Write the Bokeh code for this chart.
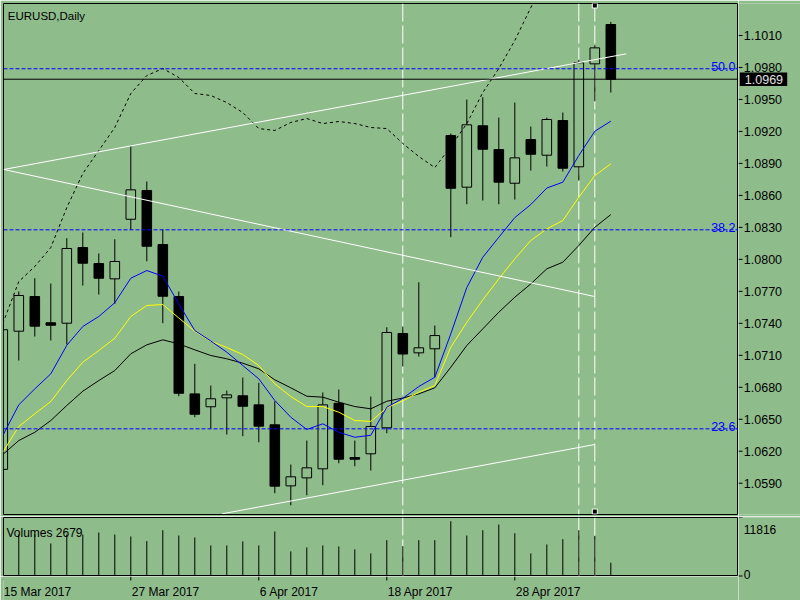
from bokeh.plotting import figure
from bokeh.models import Range1d, Label, Span
from bokeh.layouts import column, row
from bokeh.core.properties import value
from bokeh.embed import file_html
from bokeh.resources import INLINE

# ---------------- data ----------------
opens = [1.0603, 1.07326, 1.07651, 1.07405, 1.07401, 1.08111, 1.07961, 1.07817, 1.08376, 1.08646,
         1.08139, 1.07651, 1.06738, 1.06617, 1.06701, 1.06720, 1.06635, 1.06448, 1.05875, 1.05950,
         1.06035, 1.06650, 1.06141, 1.06176, 1.06420, 1.07304, 1.07123, 1.07161, 1.09162, 1.08677,
         1.09253, 1.09030, 1.08714, 1.09124, 1.08977, 1.09302, 1.08868, 1.09834, 1.10203]
highs = [1.0738, 1.07698, 1.07823, 1.07773, 1.08198, 1.08252, 1.08055, 1.08189, 1.09061, 1.08730,
         1.08280, 1.07698, 1.07020, 1.06816, 1.06769, 1.06891, 1.06842, 1.06669, 1.06075, 1.06300,
         1.06751, 1.06779, 1.06300, 1.06713, 1.07363, 1.07370, 1.07785, 1.07379, 1.09180, 1.09499,
         1.09521, 1.09330, 1.09471, 1.09246, 1.09330, 1.09377, 1.09872, 1.10006, 1.10228]
lows = [1.0600, 1.07051, 1.07276, 1.07239, 1.07201, 1.07754, 1.07670, 1.07583, 1.08277, 1.07982,
        1.07401, 1.06716, 1.06519, 1.06410, 1.06357, 1.06341, 1.06284, 1.05806, 1.05693, 1.05787,
        1.05881, 1.06087, 1.06059, 1.06019, 1.06369, 1.06995, 1.07088, 1.06894, 1.08208, 1.08517,
        1.08552, 1.08517, 1.08561, 1.08833, 1.08871, 1.08824, 1.08739, 1.09483, 1.09565]
closes = [1.0734, 1.07661, 1.07373, 1.07382, 1.08102, 1.07964, 1.07823, 1.07980, 1.08652, 1.08123,
          1.07654, 1.06744, 1.06547, 1.06692, 1.06729, 1.06622, 1.06435, 1.05872, 1.05960, 1.06044,
          1.06635, 1.06125, 1.06125, 1.06432, 1.07314, 1.07112, 1.07170, 1.07285, 1.08667, 1.09262,
          1.09033, 1.08724, 1.08952, 1.08986, 1.09312, 1.08855, 1.09844, 1.09984, 1.0969]
volumes = [11816, 8380, 8380, 6570, 8380, 8380, 8780, 8380, 7980, 7040,
           9250, 8180, 7780, 6170, 6170, 6980, 6170, 8990, 4970, 5770,
           6170, 5970, 5370, 4560, 7240, 6030, 7240, 7240, 11060, 8180,
           9250, 10390, 8640, 4560, 6370, 7440, 9250, 8040, 2679]

ma_fast = [1.06347, 1.06635, 1.06785, 1.06926, 1.07194, 1.07370, 1.07464, 1.07593, 1.07823, 1.07895,
           1.07842, 1.07583, 1.07332, 1.07234, 1.07129, 1.07004, 1.06879, 1.06676, 1.06519, 1.06404,
           1.06457, 1.06378, 1.06331, 1.06350, 1.06613, 1.06696, 1.06807, 1.06894, 1.07301, 1.07736,
           1.08020, 1.08207, 1.08392, 1.08514, 1.08669, 1.08724, 1.08974, 1.09202, 1.09296]
ma_mid = [1.06191, 1.06432, 1.06551, 1.06666, 1.06863, 1.07035, 1.07145, 1.07260, 1.07464, 1.07567,
          1.07576, 1.07450, 1.07325, 1.07231, 1.07173, 1.07107, 1.07004, 1.06832, 1.06713, 1.06619,
          1.06619, 1.06566, 1.06488, 1.06480, 1.06608, 1.06673, 1.06753, 1.06816, 1.07176, 1.07410,
          1.07620, 1.07817, 1.08005, 1.08177, 1.08286, 1.08364, 1.08583, 1.08786, 1.08896]
ma_slow = [1.06169, 1.06300, 1.06378, 1.06488, 1.06629, 1.06763, 1.06863, 1.06957, 1.07114, 1.07198,
           1.07245, 1.07207, 1.07151, 1.07098, 1.07067, 1.07026, 1.06973, 1.06870, 1.06795, 1.06716,
           1.06707, 1.06660, 1.06619, 1.06598, 1.06669, 1.06699, 1.06738, 1.06795, 1.06988, 1.07192,
           1.07348, 1.07504, 1.07645, 1.07770, 1.07911, 1.07973, 1.08130, 1.08301, 1.08420]
ma_dashed = [1.07398, 1.07792, 1.07933, 1.08111, 1.08486, 1.08805, 1.09021, 1.09237, 1.09556, 1.09724,
             1.09790, 1.09706, 1.09556, 1.09537, 1.09471, 1.09377, 1.09227, 1.09209, 1.09284, 1.09321,
             1.09274, 1.09293, 1.09274, 1.09237, 1.09227, 1.09087, 1.08965, 1.08861, 1.09058, 1.09274,
             1.09565, 1.09790, 1.10053, 1.10362, 1.10663]

date_ticks = [0, 8, 16, 24, 32]
date_labels = ["15 Mar 2017", "27 Mar 2017", "6 Apr 2017", "18 Apr 2017", "28 Apr 2017"]
price_ticks = [1.0590, 1.0620, 1.0650, 1.0680, 1.0710, 1.0740, 1.0770, 1.0800,
               1.0830, 1.0860, 1.0890, 1.0920, 1.0950, 1.0980, 1.1010]
fib_levels = [1.06410, 1.08277, 1.09788]
fib_names = ["23.6", "38.2", "50.0"]
last_price = 1.0969
vol_max = 11816
vol_ticks = [0, 11816]
vline_bars = [25, 36, 37]
trend_upper_x = [0.06, 38.96]
trend_upper_y = [1.08843, 1.09928]
trend_lower_x = [0.06, 37.0]
trend_lower_y = [1.08843, 1.07651]
trend_bottom_x = [13.71, 37.0]
trend_bottom_y = [1.05613, 1.06263]
handle_x = [37, 37]
handle_y = [1.10381, 1.05634]

# ---------------- styling ----------------
BG = "#8FBC8B"
FONT = "Liberation Sans"
Y0, Y1 = 1.056064, 1.104002
FRAME_W, FRAME_H, AXIS_W = 735, 511, 62
PPX = FRAME_H / (Y1 - Y0)  # pixels per price unit
VFRAME_H = 59
DATE_H = 24
V0 = -100
VPX = VFRAME_H / (vol_max - V0)


def make(xr, yr, fw, fh, left=0, right=0, top=0, bottom=0, outline="black"):
    f = figure(x_range=xr, y_range=yr, frame_width=fw, frame_height=fh,
               min_border_left=left, min_border_right=right,
               min_border_top=top, min_border_bottom=bottom,
               x_axis_location=None, y_axis_location=None,
               toolbar_location=None, output_backend="svg")
    f.background_fill_color = BG
    f.border_fill_color = BG
    f.outline_line_color = outline
    f.xgrid.visible = False
    f.ygrid.visible = False
    f.grid.grid_line_color = None
    return f


x_range = Range1d(0.044, 45.98)
y_range = Range1d(Y0, Y1)
v_range = Range1d(V0, vol_max)

# ---------------- main price panel ----------------
p1 = make(x_range, y_range, FRAME_W, FRAME_H, left=3, top=3, bottom=2)

for b in vline_bars:
    p1.add_layout(Span(location=b, dimension="height", line_color="white",
                       line_dash="18 4", line_width=1, level="underlay"))

idx = list(range(len(opens)))
bull = [i for i in idx if closes[i] >= opens[i]]
bear = [i for i in idx if closes[i] < opens[i]]

p1.segment(x0=idx, y0=lows, x1=idx, y1=highs, line_color="black", line_width=1)
p1.vbar(x=bull, width=0.6, top=[closes[i] for i in bull], bottom=[opens[i] for i in bull],
        fill_color=BG, line_color="black", line_width=1)
p1.vbar(x=bear, width=0.6, top=[opens[i] for i in bear], bottom=[closes[i] for i in bear],
        fill_color="black", line_color="black", line_width=1)

p1.line(list(range(len(ma_dashed))), ma_dashed, line_color="black", line_width=1, line_dash="3 3")
p1.line(idx, ma_slow, line_color="black", line_width=1)
p1.line(idx, ma_mid, line_color="#FFFF00", line_width=1)
p1.line(idx, ma_fast, line_color="#0000FF", line_width=1)

p1.line(trend_upper_x, trend_upper_y, line_color="white", line_width=1)
p1.line(trend_lower_x, trend_lower_y, line_color="white", line_width=1)
p1.line(trend_bottom_x, trend_bottom_y, line_color="white", line_width=1)

for lvl, name in zip(fib_levels, fib_names):
    p1.add_layout(Span(location=lvl, dimension="width", line_color="#0000FF",
                       line_dash="4 2", line_width=1))
    p1.add_layout(Label(x=45.79, y=lvl + 2.6 / PPX, text=name, text_align="right",
                        text_baseline="alphabetic", text_color="#0000FF",
                        text_font=FONT, text_font_size="12.5px"))

p1.add_layout(Span(location=last_price, dimension="width", line_color="black", line_width=1))
p1.scatter(handle_x, handle_y, marker="square", size=5, fill_color="black", line_color="white")

p1.add_layout(Label(x=0.3125, y=Y1 - 12.7 / PPX, text="EURUSD,Daily", text_align="left",
                    text_baseline="alphabetic", text_color="black",
                    text_font=FONT, text_font_size="11.5px"))

# ---------------- price scale (right) ----------------
p1r = make(Range1d(0, AXIS_W), y_range, AXIS_W, FRAME_H, top=3, bottom=2, outline=None)
n = len(price_ticks)
p1r.segment(x0=[0] * n, y0=price_ticks, x1=[4] * n, y1=price_ticks, line_color="black", line_width=1)
p1r.text(x=[5.3] * n, y=price_ticks, text=["%.4f" % t for t in price_ticks],
         text_align="left", text_baseline="middle", text_color="black",
         text_font=value(FONT), text_font_size=value("12.5px"))
p1r.quad(left=[1.3], right=[48.7], bottom=[last_price - 6.7 / PPX], top=[last_price + 6.6 / PPX],
         fill_color="black", line_color=None)
p1r.text(x=[6.3], y=[last_price], text=["%.4f" % last_price],
         text_align="left", text_baseline="middle", text_color="#E0E0E0",
         text_font=value(FONT), text_font_size=value("12.5px"))

# ---------------- volume panel ----------------
p2 = make(x_range, v_range, FRAME_W, VFRAME_H, left=3, top=1)
for b in vline_bars:
    p2.add_layout(Span(location=b, dimension="height", line_color="white",
                       line_dash="18 4", line_width=1, level="underlay"))
p2.segment(x0=idx, y0=[0] * len(idx), x1=idx, y1=volumes, line_color="black", line_width=1)
p2.add_layout(Label(x=0.23, y=V0 + 43.7 / VPX, text="Volumes %d" % volumes[-1], text_align="left",
                    text_baseline="alphabetic", text_color="black",
                    text_font=FONT, text_font_size="12px"))

# volume scale: same pixels-per-unit as the volume panel, extended down over the date row
p2r = make(Range1d(0, AXIS_W), Range1d(V0 - DATE_H / VPX, vol_max), AXIS_W, VFRAME_H + DATE_H,
           top=1, outline=None)
p2r.segment(x0=[0, 0], y0=vol_ticks, x1=[4, 4], y1=vol_ticks, line_color="black", line_width=1)
p2r.text(x=[5.3, 5.3], y=[vol_max - 11.6 / VPX, 1.5 / VPX], text=[str(t) for t in reversed(vol_ticks)],
         text_align="left", text_baseline="alphabetic", text_color="black",
         text_font=value(FONT), text_font_size=value("12px"))

# ---------------- date scale (bottom) ----------------
p3 = make(x_range, Range1d(0, DATE_H), FRAME_W, DATE_H, left=3, outline=None)
m = len(date_ticks)
p3.segment(x0=date_ticks, y0=[DATE_H] * m, x1=date_ticks, y1=[DATE_H - 4] * m,
           line_color="black", line_width=1)
p3.text(x=[t + 1 / 16 for t in date_ticks], y=[8.3] * m, text=date_labels,
        text_align="left", text_baseline="alphabetic", text_color="black",
        text_font=value(FONT), text_font_size=value("12px"))

layout = column(row(p1, p1r), row(column(p2, p3), p2r))

open("out.html", "w").write(file_html(layout, INLINE))
